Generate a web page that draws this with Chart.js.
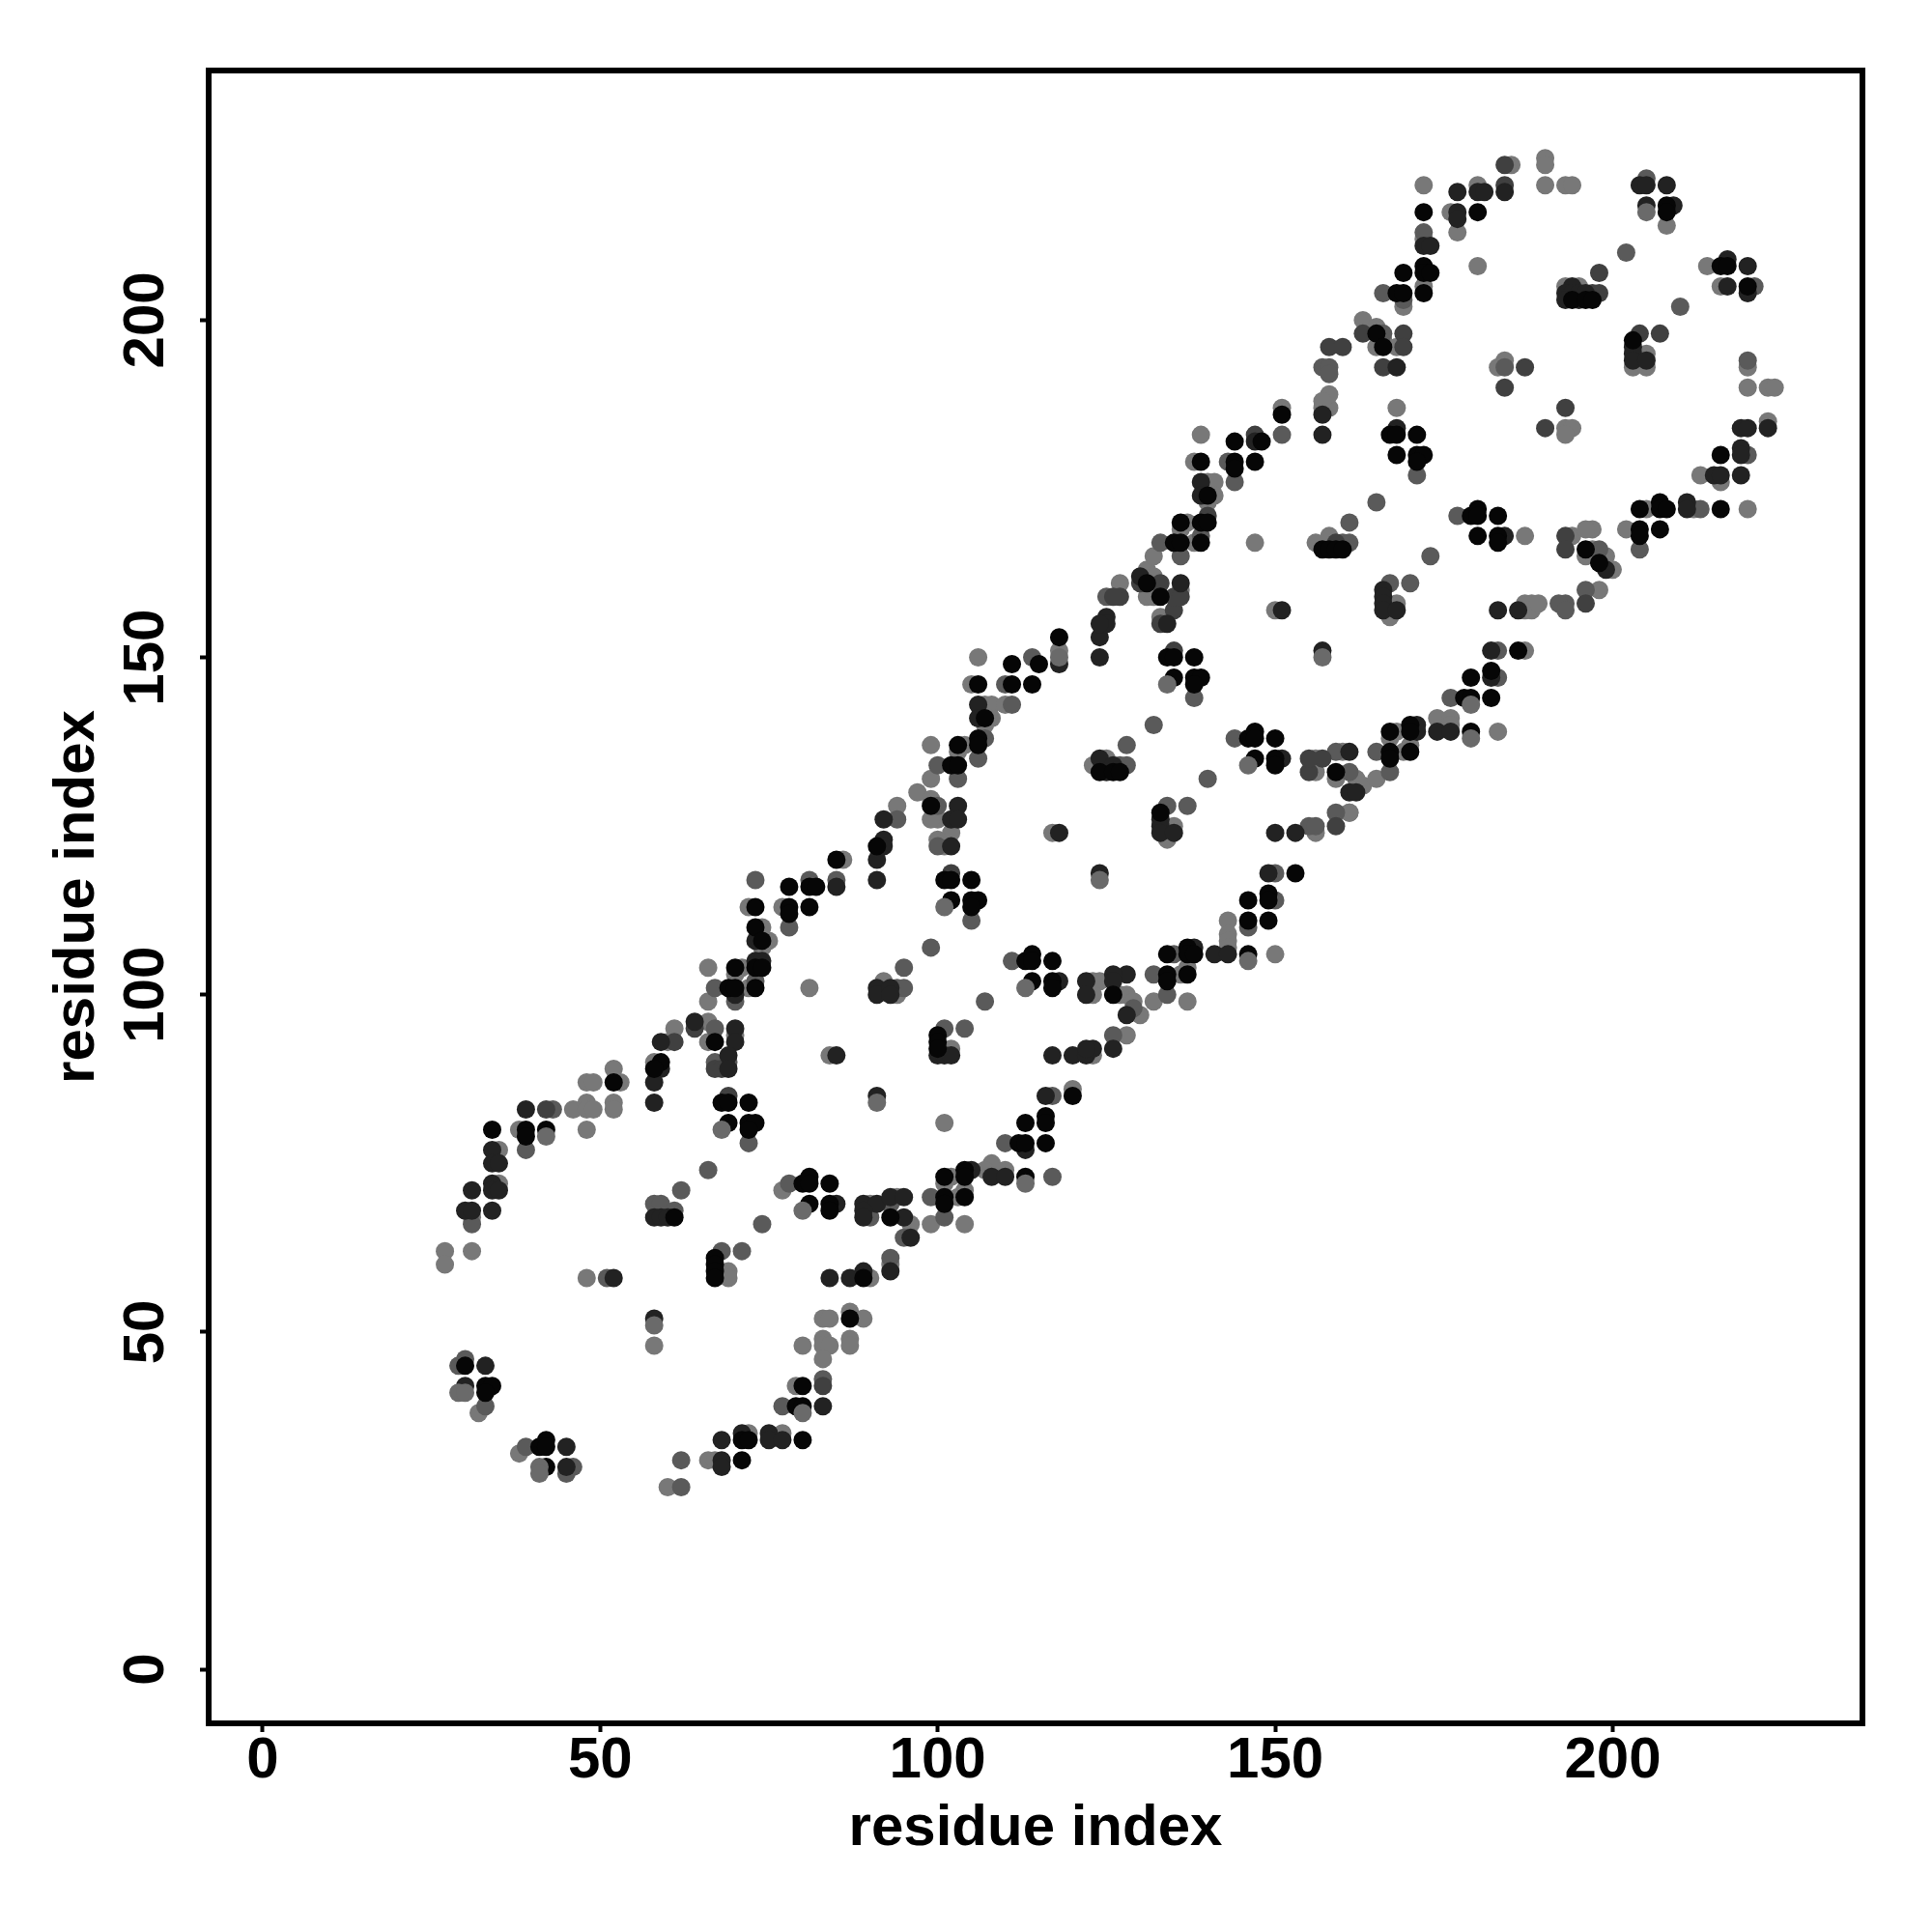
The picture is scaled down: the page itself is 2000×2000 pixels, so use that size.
<!DOCTYPE html>
<html>
<head>
<meta charset="utf-8">
<title>residue contacts</title>
<script src="https://cdn.jsdelivr.net/npm/chart.js@4"></script>
<style>
  html, body { margin: 0; padding: 0; background: #fff; }
  canvas { display: block; }
</style>
</head>
<body>
<canvas id="contact-map" width="2000" height="2000"></canvas>
<script>
// contact map, one list per grey level
const tickValues = [0, 50, 100, 150, 200];
const axisLabel = "residue index";

// light points that sit underneath the black ones
const underPoints = [[68,80],[101,113],[134,146],[113,101],[146,134],[80,68],[179,138],[42,79],[146,105],[113,72],[179,143],[29,41],[30,41],[41,30],[41,29],[80,38],[58,51],[91,84],[124,117],[157,150],[205,216],[118,150]];

const blackPoints = [[34,80],[39,80],[39,79],[42,80],[30,45],[33,42],[34,42],[33,41],[42,34],[41,33],[42,33],[42,30],[68,84],[69,84],[72,84],[69,81],[72,81],[73,81],[72,80],[52,87],[59,90],[58,89],[67,61],[67,60],[67,59],[67,58],[71,31],[71,34],[72,34],[80,34],[79,39],[80,39],[80,42],[85,120],[78,116],[81,116],[82,116],[73,113],[78,113],[78,112],[81,113],[73,110],[74,108],[73,104],[74,104],[73,101],[70,104],[69,101],[70,101],[67,93],[61,67],[80,72],[81,73],[81,72],[84,72],[81,69],[84,69],[84,68],[93,67],[101,70],[101,69],[101,73],[104,74],[104,73],[104,70],[113,73],[112,78],[113,78],[116,78],[113,81],[116,82],[116,81],[120,85],[87,52],[89,58],[91,122],[101,117],[102,117],[105,117],[102,114],[105,114],[106,114],[105,113],[100,94],[100,93],[100,92],[113,105],[114,106],[114,105],[117,105],[114,102],[117,102],[117,101],[126,100],[118,153],[115,149],[111,149],[106,146],[111,146],[114,146],[107,141],[106,138],[106,137],[103,137],[102,134],[103,134],[99,128],[124,133],[126,133],[127,133],[134,150],[135,150],[138,150],[135,147],[138,147],[139,147],[138,146],[133,127],[146,138],[147,139],[147,138],[150,138],[147,135],[150,135],[150,134],[153,118],[146,114],[149,115],[149,114],[146,111],[149,111],[146,106],[137,107],[137,106],[138,106],[134,106],[134,103],[134,102],[137,103],[151,186],[148,182],[144,182],[139,179],[144,179],[144,178],[147,179],[131,161],[133,159],[139,170],[140,170],[136,170],[135,167],[136,167],[139,167],[140,174],[157,166],[158,166],[159,166],[160,166],[168,180],[167,183],[168,183],[171,183],[171,180],[172,180],[171,179],[172,216],[180,216],[172,208],[172,207],[173,207],[169,207],[172,204],[168,204],[169,204],[165,198],[166,196],[179,171],[180,172],[180,171],[183,171],[180,168],[183,168],[183,167],[179,147],[182,148],[178,144],[179,144],[182,144],[186,151],[179,139],[170,140],[170,139],[167,139],[170,136],[167,136],[167,135],[159,133],[194,203],[196,203],[197,203],[216,208],[217,208],[220,205],[208,217],[208,216],[203,197],[216,180],[204,172],[207,173],[207,172],[208,172],[216,172],[204,169],[204,168],[207,169],[196,166],[198,164]];

const darkPoints = [[39,83],[31,71],[34,72],[34,71],[35,71],[34,77],[34,75],[35,75],[30,68],[31,68],[34,68],[30,42],[58,87],[58,84],[52,58],[58,52],[33,45],[45,33],[45,30],[68,34],[68,31],[68,30],[71,35],[75,35],[75,34],[77,34],[83,39],[84,58],[87,58],[89,59],[93,59],[58,67],[59,67],[60,67],[91,120],[92,123],[92,122],[91,117],[85,116],[73,105],[74,105],[73,108],[64,96],[59,93],[70,95],[70,93],[59,89],[69,91],[69,89],[70,100],[89,69],[91,69],[89,68],[89,67],[93,70],[95,70],[95,67],[96,64],[85,69],[105,74],[108,73],[110,73],[113,77],[116,85],[117,91],[120,91],[122,91],[123,92],[122,92],[100,91],[101,91],[102,91],[91,101],[91,100],[93,101],[93,100],[85,91],[91,85],[118,124],[124,118],[118,102],[124,153],[124,150],[125,156],[125,155],[124,155],[118,149],[106,143],[106,141],[103,128],[92,126],[102,126],[103,126],[102,122],[124,135],[125,133],[126,134],[157,151],[151,157],[133,126],[133,125],[133,124],[135,124],[151,135],[149,118],[150,124],[153,124],[141,106],[143,106],[138,107],[128,103],[126,103],[126,102],[122,102],[122,100],[128,97],[126,92],[139,176],[139,174],[136,161],[130,162],[157,183],[157,186],[168,193],[168,184],[147,182],[134,155],[166,160],[166,159],[166,158],[166,157],[168,157],[161,136],[183,157],[186,157],[182,151],[182,147],[184,168],[174,139],[176,139],[171,140],[171,139],[161,130],[162,130],[177,219],[180,219],[181,219],[184,219],[177,216],[177,215],[172,211],[173,211],[204,220],[205,220],[208,220],[205,217],[209,217],[217,209],[217,205],[220,208],[220,204],[223,184],[219,184],[220,184],[219,181],[219,180],[215,177],[216,177],[219,177],[211,173],[211,172],[199,163],[203,196],[203,195],[203,194],[194,205],[193,204],[194,204],[195,204],[196,204],[193,203],[195,203],[205,194]];

const charcoalPoints = [[42,83],[64,95],[61,93],[67,89],[68,89],[147,183],[158,196],[160,196],[184,190],[190,184],[193,187],[187,193],[184,223],[184,220],[198,207],[207,198],[204,198],[163,198],[169,198],[169,196],[140,171],[135,157],[135,159],[136,159],[133,161],[133,155],[127,159],[126,159],[135,151],[102,118],[69,85],[193,168],[193,166],[196,158],[197,204],[198,204],[159,125],[159,167],[157,135],[155,133],[155,135],[166,193],[130,161],[83,42]];

const midPoints = [[30,46],[43,83],[39,77],[31,66],[67,95],[67,90],[69,90],[68,62],[71,62],[66,74],[62,71],[74,66],[39,33],[46,30],[45,29],[33,39],[29,45],[77,39],[83,43],[93,61],[62,31],[62,27],[58,69],[59,69],[61,68],[73,117],[81,117],[85,117],[78,110],[67,101],[70,99],[73,102],[72,78],[78,72],[90,67],[93,69],[94,101],[95,101],[99,70],[101,67],[95,64],[100,122],[110,78],[117,85],[117,73],[105,111],[99,107],[107,99],[111,105],[95,104],[104,95],[101,95],[127,134],[128,134],[132,140],[140,132],[128,137],[111,143],[114,150],[110,146],[100,134],[103,132],[106,135],[107,138],[100,128],[94,126],[125,159],[126,94],[132,103],[134,100],[135,106],[129,98],[144,138],[146,110],[150,114],[150,118],[155,125],[156,125],[159,127],[137,128],[134,128],[138,144],[160,167],[161,167],[161,170],[165,173],[170,161],[167,161],[171,177],[144,176],[151,183],[136,165],[133,167],[139,168],[165,136],[159,136],[167,133],[161,133],[176,144],[183,147],[183,151],[177,171],[193,158],[192,158],[193,157],[196,160],[198,166],[202,210],[210,202],[204,166],[213,172],[221,205],[220,194],[220,180],[173,165],[166,204],[169,203],[172,213],[157,193],[158,193],[158,192],[166,198],[184,193],[205,221],[143,179],[51,58]];

const lightPoints = [[27,62],[27,60],[31,62],[35,77],[35,72],[48,87],[49,87],[53,87],[52,89],[46,83],[48,84],[48,83],[49,83],[52,84],[52,83],[48,80],[38,80],[48,58],[58,48],[31,67],[32,38],[38,32],[60,27],[66,31],[67,31],[72,35],[77,35],[79,42],[80,48],[83,49],[83,48],[84,48],[83,46],[87,49],[87,48],[83,52],[84,52],[87,53],[89,52],[90,58],[93,60],[69,59],[69,58],[86,120],[72,113],[77,113],[74,110],[75,108],[74,107],[66,104],[71,104],[70,103],[72,101],[66,99],[61,95],[66,96],[70,94],[60,93],[66,93],[58,90],[81,101],[84,91],[101,81],[102,92],[92,102],[94,100],[90,69],[94,70],[96,66],[99,66],[102,73],[101,72],[104,71],[103,70],[104,66],[108,75],[107,74],[110,74],[120,86],[77,71],[94,128],[97,130],[99,129],[99,137],[99,132],[106,150],[105,146],[107,143],[108,143],[110,143],[108,141],[107,140],[104,137],[103,136],[118,151],[100,126],[99,126],[101,122],[102,124],[100,123],[123,134],[125,135],[127,161],[131,163],[132,165],[132,162],[131,159],[132,159],[133,156],[136,160],[137,170],[136,169],[138,167],[140,176],[141,176],[141,174],[140,173],[139,183],[138,179],[147,167],[151,187],[134,123],[135,125],[137,104],[136,103],[143,111],[143,109],[143,108],[143,107],[137,99],[132,99],[150,106],[128,100],[127,100],[129,99],[130,97],[128,94],[123,102],[124,102],[123,100],[123,91],[117,124],[150,157],[156,124],[161,127],[156,167],[158,168],[157,187],[158,187],[158,189],[157,188],[168,187],[163,200],[165,199],[165,196],[166,197],[168,196],[169,202],[172,212],[172,205],[172,220],[176,216],[177,213],[180,220],[180,208],[185,223],[190,224],[190,223],[190,220],[193,220],[194,220],[184,194],[183,193],[193,184],[194,184],[193,183],[205,195],[203,193],[205,193],[193,205],[195,205],[187,168],[208,214],[214,208],[216,205],[220,193],[220,190],[223,190],[224,190],[223,185],[213,177],[216,176],[205,172],[212,172],[220,172],[202,169],[194,168],[197,169],[196,169],[196,165],[197,166],[199,165],[200,163],[198,160],[183,139],[174,141],[176,141],[176,140],[168,139],[167,138],[170,137],[169,136],[160,136],[156,135],[156,133],[159,132],[162,132],[163,131],[165,132],[161,127],[187,158],[188,158],[187,157],[188,157],[189,158],[187,151],[168,158],[167,156]];

// draw order: bottom layer first, lighter greys end up on top
const layers = [
    { points: underPoints, color: "#6a6a6a" },
    { points: blackPoints, color: "#060606" },
    { points: darkPoints, color: "#222222" },
    { points: charcoalPoints, color: "#404040" },
    { points: midPoints, color: "#5a5a5a" },
    { points: lightPoints, color: "#787878" }
];

const fontFamily = "'Liberation Sans', Arial, sans-serif";

// R style box around the plot region
const boxPlugin = {
    id: "box",
    afterDatasetsDraw(chart) {
        const { ctx, chartArea } = chart;
        ctx.save();
        ctx.strokeStyle = "#000";
        ctx.lineWidth = 6;
        ctx.strokeRect(chartArea.left, chartArea.top, chartArea.right - chartArea.left, chartArea.bottom - chartArea.top);
        ctx.restore();
    }
};

function useFixedTicks(scale) {
    scale.ticks = tickValues.map(value => ({ value: value }));
}

new Chart(document.getElementById("contact-map"), {
    type: "scatter",
    data: {
        datasets: layers.map(layer => ({
            data: layer.points.map(p => ({ x: p[0], y: p[1] })),
            backgroundColor: layer.color,
            borderWidth: 0,
            pointRadius: 9.5,
            pointHoverRadius: 9.5
        }))
    },
    options: {
        responsive: false,
        animation: false,
        layout: { padding: { top: 73, right: 72, left: 0, bottom: 0 } },
        plugins: { legend: { display: false }, tooltip: { enabled: false } },
        scales: {
            x: {
                type: "linear",
                min: -8,
                max: 237,
                afterBuildTicks: useFixedTicks,
                afterFit(scale) { scale.height = 216; },
                grid: { drawOnChartArea: false, drawTicks: true, tickLength: 9, tickWidth: 4, tickColor: "#000" },
                border: { display: false },
                ticks: {
                    color: "#000",
                    font: { family: fontFamily, weight: "bold", size: 60 },
                    padding: -6,
                    maxRotation: 0,
                    autoSkip: false
                },
                title: {
                    display: true,
                    text: axisLabel,
                    color: "#000",
                    font: { family: fontFamily, weight: "bold", size: 60 },
                    padding: { top: 0, bottom: 71 }
                }
            },
            y: {
                type: "linear",
                min: -8,
                max: 237,
                afterBuildTicks: useFixedTicks,
                afterFit(scale) { scale.width = 216; },
                grid: { drawOnChartArea: false, drawTicks: true, tickLength: 9, tickWidth: 4, tickColor: "#000" },
                border: { display: false },
                ticks: {
                    color: "#000",
                    font: { family: fontFamily, weight: "bold", size: 60 },
                    padding: 4,
                    minRotation: 90,
                    maxRotation: 90,
                    crossAlign: "center",
                    autoSkip: false
                },
                title: {
                    display: true,
                    text: axisLabel,
                    color: "#000",
                    font: { family: fontFamily, weight: "bold", size: 60 },
                    padding: { top: 44, bottom: 0 }
                }
            }
        }
    },
    plugins: [boxPlugin]
});
</script>
</body>
</html>
